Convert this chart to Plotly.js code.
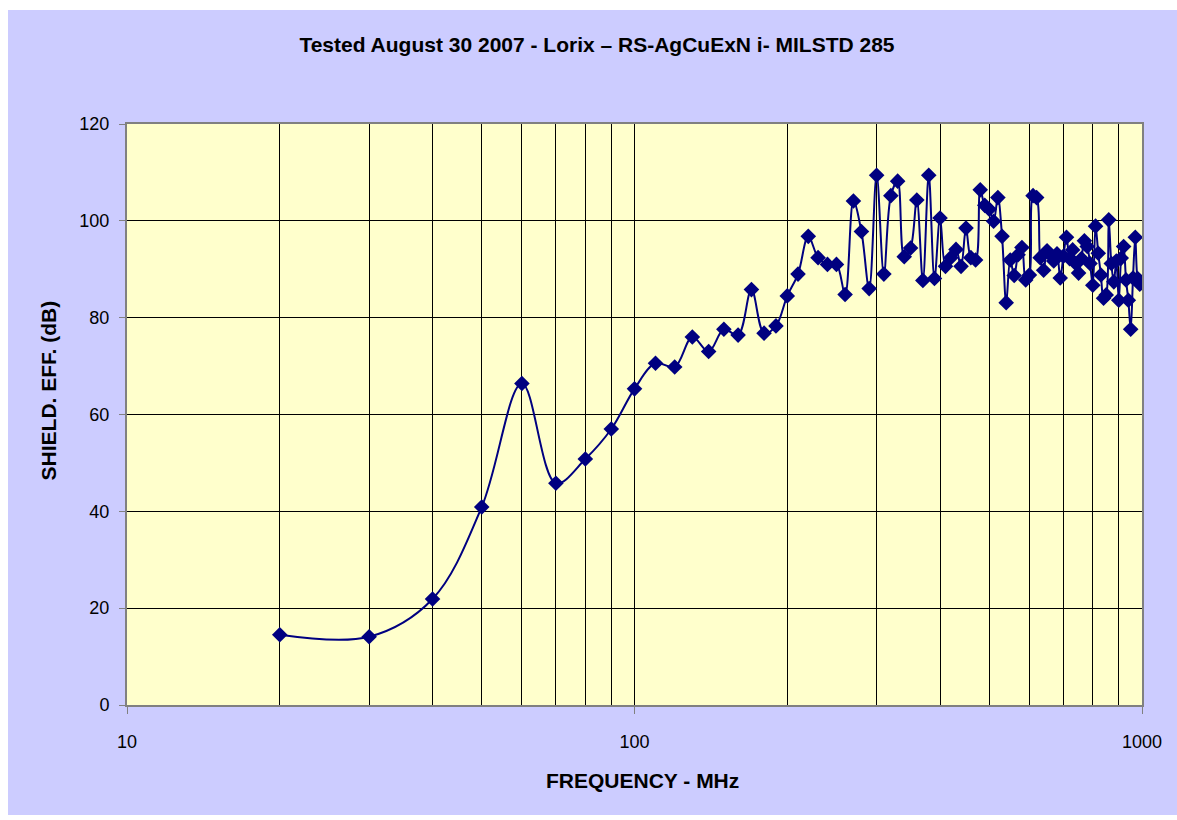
<!DOCTYPE html>
<html>
<head>
<meta charset="utf-8">
<script src="https://cdn.plot.ly/plotly-3.0.1.min.js"></script>
<style>
  html, body { margin: 0; padding: 0; background: #ffffff; }
  #chart { position: absolute; left: 8px; top: 10px; width: 1169px; height: 805px; }
</style>
</head>
<body>
<div id="chart"></div>
<script>
// Frequencies (MHz)
const freq = [20,30,40,50,60,70,80,90,100,110,120,130,140,150,160,170,180,190,
  200,210,220,230,240,250,260,270,280,290,300,310,320,330,340,350,360,370,380,390,
  400,410,420,430,440,450,460,470,480,490,500,510,520,530,540,550,560,570,580,590,
  600,610,620,630,640,650,660,670,680,690,700,710,720,730,740,750,760,770,780,790,
  800,810,820,830,840,850,860,870,880,890,900,910,920,930,940,950,960,970,980,990,1000];
// Shielding effectiveness (dB)
const se = [14.5,14.1,21.9,40.9,66.4,45.8,50.8,57.0,65.3,70.6,69.8,76.0,73.0,77.6,76.4,85.8,76.8,78.3,
  84.5,89.0,96.8,92.4,91.0,91.0,84.8,104.1,97.8,86.0,109.4,89.0,105.2,108.2,92.6,94.4,104.3,87.7,109.4,88.1,
  100.6,90.6,92.4,94.1,90.6,98.5,92.4,91.9,106.4,103.2,102.4,99.9,104.8,96.8,83.1,91.9,88.7,93.0,94.5,87.8,
  88.8,105.2,104.8,92.4,89.8,93.8,93.0,91.7,93.2,88.2,92.7,96.6,92.2,94.0,91.2,89.2,92.2,95.9,94.7,91.2,
  86.7,98.9,93.3,88.8,84.0,84.7,100.2,91.2,87.4,91.7,83.6,92.3,94.7,87.8,83.6,77.6,88.2,96.6,88.1,86.9,87.2];

const xTicks = [10, 100, 1000];
const xTickText = ['10', '100', '1000'];
const xMinor = [20,30,40,50,60,70,80,90,200,300,400,500,600,700,800,900];

const titleText = 'Tested August 30 2007 - Lorix \u2013 RS-AgCuExN i- MILSTD 285';
const xTitle = 'FREQUENCY - MHz';
const yTitle = 'SHIELD. EFF. (dB)';

const trace = {
  x: freq, y: se, type: 'scatter', mode: 'lines+markers',
  line: { color: '#000080', width: 2, shape: 'spline', smoothing: 1 },
  marker: { symbol: 'diamond', size: 12, color: '#000080' },
  hoverinfo: 'x+y'
};

const FONT = 'Liberation Sans, Arial, sans-serif';

const layout = {
  paper_bgcolor: '#CCCCFF',
  plot_bgcolor: '#FFFFCC',
  margin: { l: 119, r: 35, t: 114, b: 110 },
  showlegend: false,
  font: { family: FONT, color: '#000000' },
  title: {
    text: '<b>' + titleText + '</b>',
    font: { size: 21, family: FONT, color: '#000' },
    x: (597 - 8) / 1169, xref: 'container', xanchor: 'center',
    y: 1 - 35/805, yref: 'container', yanchor: 'middle'
  },
  xaxis: {
    type: 'log', range: [1, 3],
    tickmode: 'array', tickvals: xTicks, ticktext: xTickText,
    ticks: 'outside', ticklen: 7, tickcolor: '#808080', tickwidth: 1,
    ticklabelstandoff: 12,
    tickfont: { size: 18 },
    showgrid: true, gridcolor: '#000000', gridwidth: 1,
    minor: { tickmode: 'array', tickvals: xMinor, showgrid: true, gridcolor: '#000000', gridwidth: 1, ticks: '' },
    showline: true, linecolor: '#808080', linewidth: 2, mirror: true,
    zeroline: false
  },
  yaxis: {
    range: [0, 120], dtick: 20, tick0: 0,
    ticks: 'outside', ticklen: 6, tickcolor: '#808080', tickwidth: 1,
    ticklabelstandoff: 6,
    tickfont: { size: 18 },
    showgrid: true, gridcolor: '#000000', gridwidth: 1,
    showline: true, linecolor: '#808080', linewidth: 2, mirror: true,
    zeroline: false
  },
  annotations: [
    { text: '<b>' + xTitle + '</b>', xref: 'paper', yref: 'paper',
      x: (642 - 127) / (1142 - 127), y: -(779 - 704) / (704 - 124),
      xanchor: 'center', yanchor: 'middle', showarrow: false,
      font: { size: 21, family: FONT, color: '#000' } },
    { text: '<b>' + yTitle + '</b>', xref: 'paper', yref: 'paper',
      x: -(127 - 48) / (1142 - 127), y: (704 - 390) / (704 - 124),
      xanchor: 'center', yanchor: 'middle', showarrow: false, textangle: -90,
      font: { size: 21, family: FONT, color: '#000' } }
  ]
};

Plotly.newPlot('chart', [trace], layout, { displayModeBar: false });
</script>
</body>
</html>
